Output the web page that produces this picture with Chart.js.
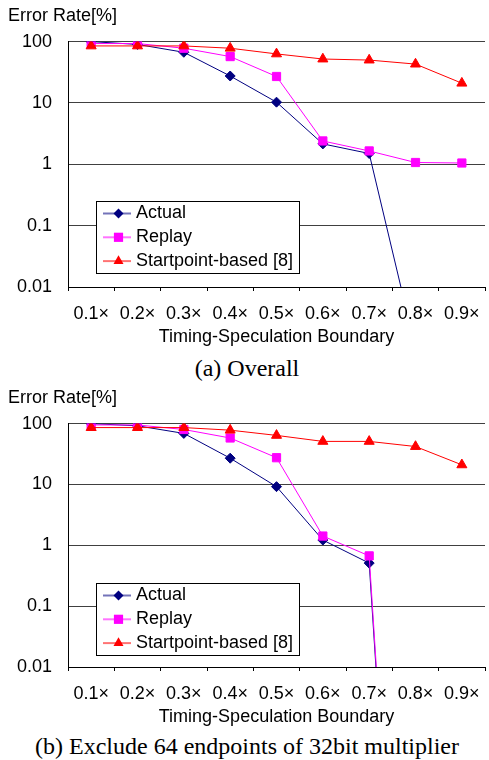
<!DOCTYPE html>
<html>
<head>
<meta charset="utf-8">
<script src="https://cdn.jsdelivr.net/npm/chart.js@4.4.0/dist/chart.umd.min.js"></script>
<style>
  body { margin: 0; background: #fff; width: 489px; height: 760px; overflow: hidden; position: relative; }
  .box { position: absolute; left: 0; width: 489px; overflow: hidden; }
  .box canvas { display: block; }
  .caption { position: absolute; left: 0; width: 494px; text-align: center; color: #000;
             font-family: "Liberation Serif", "Times New Roman", serif; font-size: 24px; line-height: 26px; }
</style>
</head>
<body>
<div class="box" style="top:0;height:352px"><canvas id="chartA" width="492" height="352"></canvas></div>
<div class="caption" style="top:355px">(a) Overall</div>
<div class="box" style="top:382px;height:350px"><canvas id="chartB" width="492" height="350"></canvas></div>
<div class="caption" style="top:733px">(b) Exclude 64 endpoints of 32bit multiplier</div>

<script>
// x categories and y decades
const boundaries = ['0.1×', '0.2×', '0.3×', '0.4×', '0.5×', '0.6×', '0.7×', '0.8×', '0.9×'];
const yTicks = [0.01, 0.1, 1, 10, 100];

// (a) Overall
const actualA = [100, 90, 67, 27.5, 10.3, 2.15, 1.5, 0.001, 0.001];
const replayA = [93, 93, 78, 57, 27, 2.4, 1.65, 1.07, 1.05];
const startA = [85, 85, 85, 78, 63, 52, 50, 43, 21];

// (b) Exclude 64 endpoints of 32bit multiplier
const actualB = [100, 92, 69, 27, 9.2, 1.22, 0.51, 1e-12, 1e-12];
const replayB = [95, 95, 80, 58, 27.5, 1.42, 0.67, 1e-12, 1e-12];
const startB = [86, 86, 86, 78, 64, 51, 51, 42, 21];

Chart.defaults.font.family = '"Liberation Sans", Arial, sans-serif';
Chart.defaults.font.size = 18;
Chart.defaults.color = '#000';

const drawMarker = (ctx, style, x, y, r, color) => {
    ctx.fillStyle = color;
    ctx.beginPath();
    if (style === 'rectRot') {
        ctx.moveTo(x - r, y);
        ctx.lineTo(x, y - r);
        ctx.lineTo(x + r, y);
        ctx.lineTo(x, y + r);
    } else if (style === 'rect') {
        const s = r * Math.SQRT1_2 + 0.5;
        ctx.rect(x - s, y - s, 2 * s, 2 * s);
    } else {
        const w = r * Math.sin(Math.PI / 3);
        ctx.moveTo(x, y - r);
        ctx.lineTo(x + w, y + r / 2);
        ctx.lineTo(x - w, y + r / 2);
    }
    ctx.closePath();
    ctx.fill();
};

// legend box drawn inside the plot, like the original
const legendBox = {
    id: 'legendBox',
    afterDraw(chart) {
        const ctx = chart.ctx;
        const area = chart.chartArea;
        const x = Math.round(area.left + 28), y = Math.round(area.top + 159);
        ctx.save();
        ctx.fillStyle = '#fff';
        ctx.fillRect(x, y, 203, 72);
        ctx.strokeStyle = '#000';
        ctx.lineWidth = 1;
        ctx.strokeRect(x + 0.5, y + 0.5, 203, 72);
        ctx.font = '18px "Liberation Sans", Arial, sans-serif';
        ctx.textBaseline = 'middle';
        chart.data.datasets.forEach((ds, i) => {
            const cy = y + 12.5 + i * 23.8;
            ctx.globalAlpha = 0.55;
            ctx.strokeStyle = ds.borderColor;
            ctx.lineWidth = 2;
            ctx.beginPath();
            ctx.moveTo(x + 7, cy);
            ctx.lineTo(x + 35, cy);
            ctx.stroke();
            ctx.globalAlpha = 1;
            drawMarker(ctx, ds.pointStyle, x + 22.5, cy, ds.pointRadius, ds.backgroundColor);
            ctx.fillStyle = '#000';
            ctx.fillText(ds.label, x + 40, cy);
        });
        ctx.restore();
    }
};

const makeChart = (id, actual, replay, start) => {
    return new Chart(document.getElementById(id), {
        type: 'line',
        data: {
            labels: boundaries,
            datasets: [{
                label: 'Actual',
                data: actual,
                borderColor: '#000080',
                backgroundColor: '#000080',
                borderWidth: 1,
                pointStyle: 'rectRot',
                pointRadius: 5,
                order: 2
            }, {
                label: 'Replay',
                data: replay,
                borderColor: '#FF00FF',
                backgroundColor: '#FF00FF',
                borderWidth: 1,
                pointStyle: 'rect',
                pointRadius: 5.8,
                order: 1
            }, {
                label: 'Startpoint-based [8]',
                data: start,
                borderColor: '#FF0000',
                backgroundColor: '#FF0000',
                borderWidth: 1,
                pointStyle: 'triangle',
                pointRadius: 5.8,
                order: 0
            }]
        },
        options: {
            responsive: false,
            animation: false,
            layout: { padding: { left: 8, right: 0, top: 0, bottom: 0 } },
            scales: {
                x: {
                    offset: true,
                    afterFit: (s) => { s.height = 65; },
                    grid: { offset: true, drawOnChartArea: false, drawTicks: true, tickLength: 4, color: '#000' },
                    border: { display: true, color: '#000', width: 1 },
                    ticks: { padding: 12, maxRotation: 0, autoSkip: false },
                    title: {
                        display: true,
                        text: 'Timing-Speculation Boundary',
                        padding: { top: 0, bottom: 4 }
                    }
                },
                y: {
                    type: 'logarithmic',
                    min: 0.01,
                    max: 100,
                    afterBuildTicks: (s) => { s.ticks = yTicks.map(v => ({ value: v })); },
                    afterFit: (s) => { s.width = 60; },
                    grid: { color: '#404040', drawTicks: false },
                    border: { display: true, color: '#000', width: 1 },
                    ticks: { padding: 16, callback: (v) => String(v) }
                }
            },
            plugins: {
                legend: { display: false },
                tooltip: { enabled: false },
                title: {
                    display: true,
                    text: 'Error Rate[%]',
                    align: 'start',
                    color: '#000',
                    font: { size: 18, weight: 'normal' },
                    padding: { top: 5, bottom: 15 }
                }
            }
        },
        plugins: [legendBox]
    });
};

makeChart('chartA', actualA, replayA, startA);
makeChart('chartB', actualB, replayB, startB);
</script>
</body>
</html>
